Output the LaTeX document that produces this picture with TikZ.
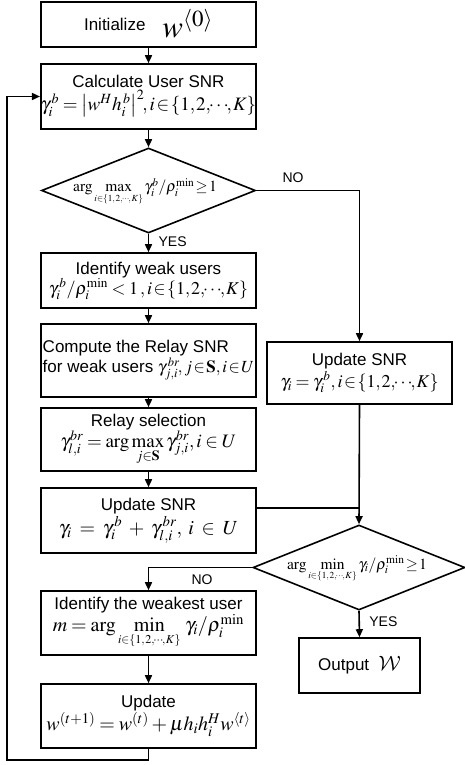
\documentclass[tikz,border=0pt]{standalone}
\usepackage{mathptmx}
\usepackage[no-math]{fontspec}
\setmainfont{Liberation Sans}
\usetikzlibrary{shapes.geometric,arrows.meta}
\DeclareMathAlphabet{\mathcmcal}{OMS}{cmsy}{m}{n}

\newcommand{\tf}{\fontsize{17}{20}\selectfont}
\newcommand{\mf}{\fontsize{18}{22}\selectfont}
\newcommand{\df}{\fontsize{15.5}{18}\selectfont}
\newcommand{\iset}{\{1{,}\mkern1mu2{,}\mkern-2mu\mathord{\cdots}\mkern-2mu{,}\mkern1mu K\}}
\newcommand{\inn}{\mathrel{\mkern-2mu\in\mkern-2mu}}

\thinmuskip=2mu
\medmuskip=2.5mu plus 1mu
\thickmuskip=3.5mu plus 2mu

\begin{document}
\begin{tikzpicture}[x=1pt,y=-1pt,
  stepbox/.style={draw,line width=1.6pt,minimum width=215pt,inner sep=0pt,align=center,font=\tf},
  decision/.style={draw,diamond,line width=1.6pt,inner sep=0pt},
  flow/.style={line width=1.6pt,-{Triangle[length=8pt,width=7pt]}},
  plain/.style={line width=1.6pt},
  tag/.style={font=\fontsize{14}{16}\selectfont}]
\useasboundingbox (0,0) rectangle (465,765);

% main column
\node[stepbox,minimum height=45pt] (init) at (148.5,24.5)
  {Initialize\quad\smash{\raisebox{-7pt}{\fontsize{31}{31}\selectfont$w^{\langle 0\rangle}$}}};
\node[stepbox,minimum height=65pt] (calc) at (148.5,96.5)
  {Calculate User SNR\\[1pt]
   {\fontsize{19}{22}\selectfont$\gamma_i^{\,b} = \left|w^{H} h_i^{\,b}\right|^2\!\!, i\inn\iset$}};
\node[decision,minimum width=214pt,minimum height=85pt] (d1) at (148.5,190.5) {};
\node[font=\df] (d1t) at (145,192)
  {$\arg\max\limits_{\scriptscriptstyle i\in\iset}\gamma_i^b/\rho_i^{\min}\!\ge\! 1$};
\node[stepbox,minimum height=55pt] (weak) at (148.5,280.5)
  {Identify weak users\\
   {\mf$\gamma_i^{\,b}/\rho_i^{\min} < 1\,, i\inn\iset$}};
\node[stepbox,minimum height=73pt,align=left] (relay) at (148.5,360.5)
  {Compute the Relay SNR\\
   for weak users {\fontsize{17}{20}\selectfont$\gamma_{j,i}^{\,br}\!, j\inn\mathbf{S}, i\inn U$}};
\node[stepbox,minimum height=63pt] (sel) at (148.5,439.5)
  {Relay selection\\
   {\fontsize{19}{22}\selectfont$\gamma_{l,i}^{br} = \arg\max\limits_{j\in\mathbf{S}}\gamma_{j,i}^{br}, i\in U$}};
\node[stepbox,minimum height=65pt] (upd1) at (148.5,520.5)
  {Update SNR\\[2pt]
   {\fontsize{20}{22}\selectfont$\gamma_i \;=\; \gamma_i^{\,b} \;+\; \gamma_{l,i}^{\,br}, \; i\;\in\; U$}};
\node[stepbox,minimum height=64pt] (weakest) at (148.5,623)
  {Identify the weakest user\\
   {\fontsize{20}{22}\selectfont$m = \arg\min\limits_{\scriptscriptstyle i\in\iset}\,\gamma_i/\rho_i^{\min}$}};
\node[stepbox,minimum height=64pt] (upd2) at (148.5,716)
  {Update\\
   {\fontsize{20}{22}\selectfont$w^{(t+1)} = w^{(t)} + \mu h_i h_i^{H} w^{\langle t\rangle}$}};

% right column
\node[stepbox,minimum width=185pt,minimum height=62pt] (updr) at (359.5,373)
  {Update SNR\\[2pt]
   {\mf$\gamma_i = \gamma_i^{\,b}, i\inn\iset$}};
\node[decision,minimum width=212pt,minimum height=85pt] (d2) at (359,567.5) {};
\node[font=\df] (d2t) at (357,569)
  {$\arg\min\limits_{\scriptscriptstyle i\in\iset}\gamma_i/\rho_i^{\min}\!\ge\! 1$};
\node[stepbox,minimum width=121pt,minimum height=55pt] (out) at (359.5,665.5)
  {Output\ \ {\fontsize{21}{21}\selectfont$\mathcmcal{W}$}};

% connectors
\draw[flow] (init) -- (calc);
\draw[flow] (calc) -- (d1);
\draw[flow] (d1.south) -- node[tag,right=6pt,pos=0.45] (yes1) {YES} (weak);
\draw[flow] (d1.east) -| (updr.north);
\node[tag] (no1) at (293,178) {NO};
\draw[flow] (weak) -- (relay);
\draw[flow] (relay) -- (sel);
\draw[flow] (sel) -- (upd1);
\draw[flow] (updr.south) -- (d2.north);
\draw[plain] ([yshift=12.5pt]upd1.east) -- ([yshift=12.5pt]upd1.east -| d2.north);
\draw[flow] (d2.west) -| (weakest.north);
\node[tag] (no2) at (202,580) {NO};
\draw[flow] (d2.south) -- node[tag,right=6pt,pos=0.4] (yes2) {YES} (out.north);
\draw[flow] (weakest) -- (upd2);
\coordinate (loop) at (7,760);
\draw[flow] (upd2.south) |- (loop) |- (calc.west);
\end{tikzpicture}
\end{document}
